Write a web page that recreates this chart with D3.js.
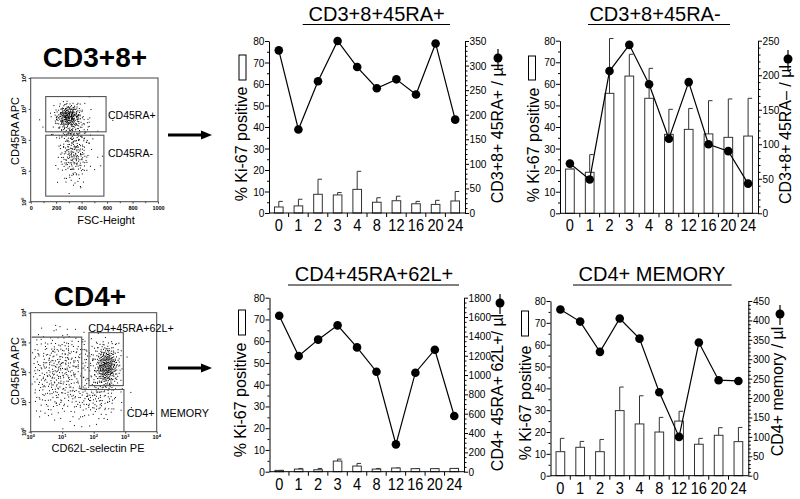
<!DOCTYPE html>
<html><head><meta charset="utf-8">
<script src="https://cdn.jsdelivr.net/npm/d3@7"></script>
<style>
body{margin:0;background:#fff}
svg{display:block}
text{font-family:"Liberation Sans",Arial,Helvetica,sans-serif;fill:#000}
</style>
</head><body>
<svg id="c" width="800" height="499"></svg>
<script>
// ---------------- DATA ----------------
const timepoints = ["0","1","2","3","4","8","12","16","20","24"];
const leftTicks = [0,10,20,30,40,50,60,70,80];

// CD3+8+45RA+
const ki67_A    = [2.8, 3.3, 8.7, 8.4, 11.0, 5.0, 5.7, 4.3, 4.0, 5.6];
const ki67Err_A = [5.4, 6.4, 15.7, 9.5, 19.4, 7.1, 7.8, 5.4, 5.9, 10.0];
const count_A   = [331, 170, 268, 350, 297, 254, 272, 241, 345, 190];
const rightTicks_A = [0,50,100,150,200,250,300,350];

// CD3+8+45RA-
const ki67_B    = [20.5, 19.0, 55.6, 63.6, 53.3, 36.6, 38.9, 36.8, 35.2, 35.8];
const ki67Err_B = [20.5, 27.2, 81.0, 73.7, 67.2, 48.2, 48.6, 52.2, 53.0, 53.3];
const count_B   = [72, 49, 206, 244, 187, 108, 190, 100, 90, 43];
const rightTicks_B = [0,50,100,150,200,250];

// CD4+45RA+62L+
const ki67_C    = [0.6, 1.2, 0.9, 4.9, 2.6, 1.2, 1.7, 1.4, 1.4, 1.5];
const ki67Err_C = [0.6, 1.5, 1.5, 5.8, 3.8, 1.5, 1.7, 1.4, 1.4, 1.5];
const count_C   = [1614, 1197, 1366, 1514, 1286, 1034, 283, 1024, 1262, 576];
const rightTicks_C = [0,200,400,600,800,1000,1200,1400,1600,1800];

// CD4+ MEMORY
const ki67_D    = [11.0, 13.0, 11.0, 29.8, 23.7, 20.0, 25.0, 14.4, 18.5, 15.6];
const ki67Err_D = [17.1, 15.7, 16.6, 40.6, 36.6, 26.7, 29.5, 17.1, 22.0, 22.1];
const count_D   = [428, 397, 319, 405, 353, 215, 100, 343, 246, 244];
const rightTicks_D = [0,50,100,150,200,250,300,350,400,450];

const titles = ["CD3+8+45RA+","CD3+8+45RA-","CD4+45RA+62L+","CD4+ MEMORY"];
const rightLabels = ["CD3+8+ 45RA+ / µl","CD3+8+ 45RA\u2013 / µl","CD4+ 45RA+ 62L+/ µl","CD4+ memory / µl"];
const leftLabel = "% Ki-67 positive";

// flow cytometry tick labels
const fscTicks = [0,200,400,600,800,1000];
const logDecades = [0,1,2,3,4];
// flow density blobs: [centerX, centerY(log10), spreadX, spreadY, dots]
const flow1Blobs = [[292,2.80,46,0.17,200],[305,2.55,68,0.3,130],[335,1.55,58,0.47,200],[360,2.1,95,0.65,60]];
// x,y both log10
const flow2Blobs = [[2.40,2.20,0.19,0.36,360],[0.85,1.95,0.55,0.75,400],[2.05,1.15,0.42,0.38,130],[1.6,2.6,0.6,0.3,60]];

// ---------------- DRAW ----------------
const svg = d3.select("#c");
const FONT = '"Liberation Sans",Arial,Helvetica,sans-serif';

const layout = [
  {L:269,R:465,y0:213,yT:41, tx:376.7,ty:21,ul:[302.7,450,24.5],
   lx:241,ly:144,bx:242.5,by:[55,80], rx:497,ry:133.5,dot:[498,58], minorR:10},
  {L:560,R:758,y0:213.3,yT:40.7, tx:655,ty:21,ul:[588,730,24.5],
   lx:533,ly:145,bx:532,by:[56,80], rx:785,ry:134.5,dot:[788,59], minorR:10},
  {L:269.5,R:464,y0:471.7,yT:297.7, tx:374,ty:281,ul:[288,459,285],
   lx:240,ly:400,bx:242,by:[310,335], rx:497,ry:392.5,dot:[500,303], minorR:50},
  {L:550.5,R:748.3,y0:475.7,yT:301, tx:652,ty:281,ul:[573,731.7,285],
   lx:525,ly:403,bx:525,by:[311,336], rx:777,ry:391.5,dot:[780,314], minorR:10}
];
const sets = [
  [ki67_A,ki67Err_A,count_A,rightTicks_A],
  [ki67_B,ki67Err_B,count_B,rightTicks_B],
  [ki67_C,ki67Err_C,count_C,rightTicks_C],
  [ki67_D,ki67Err_D,count_D,rightTicks_D]
];

sets.forEach((s,i)=>{
  const [ki,err,cnt,rt] = s, p = layout[i];
  const g = svg.append("g");
  const x = d3.scaleBand().domain(timepoints).range([p.L,p.R]).padding(0);
  const yL = d3.scaleLinear().domain([0,80]).range([p.y0,p.yT]);
  const cMax = rt[rt.length-1];
  const yR = d3.scaleLinear().domain([0,cMax]).range([p.y0,p.yT]);
  const bw = x.bandwidth()*0.44;
  const cx = t => x(t)+x.bandwidth()/2;

  // error bars
  g.selectAll(".err").data(timepoints).join("path")
    .attr("d",(t,k)=>`M${cx(t)},${yL(ki[k])}V${yL(err[k])}h4`)
    .attr("fill","none").attr("stroke","#333").attr("stroke-width",1);
  // bars
  g.selectAll(".bar").data(timepoints).join("rect")
    .attr("x",t=>cx(t)-bw/2).attr("width",bw)
    .attr("y",(t,k)=>yL(ki[k])).attr("height",(t,k)=>yL(0)-yL(ki[k]))
    .attr("fill","#fff").attr("stroke","#333").attr("stroke-width",1);

  // line
  const line = d3.line().x(d=>cx(d[0])).y(d=>yR(d[1]));
  const pts = timepoints.map((t,k)=>[t,cnt[k]]);
  g.append("path").attr("d",line(pts)).attr("fill","none").attr("stroke","#000").attr("stroke-width",1.2);
  g.selectAll(".pt").data(pts).join("circle")
    .attr("cx",d=>cx(d[0])).attr("cy",d=>yR(d[1])).attr("r",4.3).attr("fill","#000");

  // left axis
  g.append("g").attr("class","ya").attr("transform",`translate(${p.L},0)`)
    .call(d3.axisLeft(yL).tickValues(leftTicks).tickSize(4).tickSizeOuter(0).tickPadding(1));
  g.append("g").attr("transform",`translate(${p.L},0)`)
    .call(d3.axisLeft(yL).tickValues(d3.range(5,80,10)).tickSize(2).tickSizeOuter(0).tickFormat(""))
    .select(".domain").remove();
  // right axis
  g.append("g").attr("class","ya").attr("transform",`translate(${p.R},0)`)
    .call(d3.axisRight(yR).tickValues(rt).tickSize(4).tickSizeOuter(0).tickPadding(1).tickFormat(d3.format("d")));
  const minors = d3.range(0,cMax+0.01,p.minorR).filter(v=>!rt.includes(v));
  g.append("g").attr("transform",`translate(${p.R},0)`)
    .call(d3.axisRight(yR).tickValues(minors).tickSize(2.5).tickSizeOuter(0).tickFormat(""))
    .select(".domain").remove();
  g.selectAll(".ya text").attr("font-size",11).attr("font-family",FONT)
    .attr("transform","scale(0.92,1)");
  // bottom axis: labels at centers, ticks at boundaries
  const ba = g.append("g").attr("transform",`translate(0,${p.y0})`)
    .call(d3.axisBottom(x).tickSize(0).tickSizeOuter(0).tickPadding(6));
  ba.selectAll("text").attr("font-size",17).attr("font-family",FONT).attr("transform","scale(0.86,1)");
  ba.select(".domain").attr("d",`M${p.L},0H${p.R}`);
  g.selectAll(".xt").data(timepoints.slice(1)).join("line")
    .attr("x1",t=>x(t)).attr("x2",t=>x(t)).attr("y1",p.y0).attr("y2",p.y0+4)
    .attr("stroke","#000");
  g.selectAll(".domain").attr("stroke","#000");
  g.selectAll(".tick line").attr("stroke","#000");

  // title
  g.append("text").attr("x",p.tx).attr("y",p.ty).attr("text-anchor","middle")
    .attr("font-size",20).text(titles[i]);
  g.append("line").attr("x1",p.ul[0]).attr("x2",p.ul[1]).attr("y1",p.ul[2]).attr("y2",p.ul[2])
    .attr("stroke","#000").attr("stroke-width",1.2);

  // left label + bar legend
  g.append("text").attr("transform",`translate(${p.lx},${p.ly}) rotate(-90)`)
    .attr("text-anchor","middle").attr("dy","0.35em").attr("font-size",16).text(leftLabel);
  g.append("rect").attr("x",p.bx-3.5).attr("y",p.by[0]).attr("width",7).attr("height",p.by[1]-p.by[0])
    .attr("fill","#fff").attr("stroke","#000").attr("stroke-width",1);

  // right label + line legend
  g.append("text").attr("transform",`translate(${p.rx},${p.ry}) rotate(-90)`)
    .attr("text-anchor","middle").attr("dy","0.35em").attr("font-size",16).text(rightLabels[i]);
  g.append("line").attr("x1",p.dot[0]).attr("x2",p.dot[0]).attr("y1",p.dot[1]-9).attr("y2",p.dot[1]+11)
    .attr("stroke","#000").attr("stroke-width",1.2);
  g.append("circle").attr("cx",p.dot[0]).attr("cy",p.dot[1]).attr("r",4.5).attr("fill","#000");
});

// ---------------- arrows ----------------
[[168,212,135],[168,212,368]].forEach(a=>{
  svg.append("line").attr("x1",a[0]).attr("x2",a[1]-8).attr("y1",a[2]).attr("y2",a[2])
    .attr("stroke","#000").attr("stroke-width",3);
  svg.append("path").attr("d",`M${a[1]},${a[2]}L${a[1]-11},${a[2]-4.5}L${a[1]-11},${a[2]+4.5}Z`).attr("fill","#000");
});

// ---------------- flow plots ----------------
function halton(i,b){let f=1,r=0;while(i>0){f/=b;r+=f*(i%b);i=Math.floor(i/b);}return r;}
function blobDots(blobs){
  const out=[];let idx=1;
  blobs.forEach(b=>{
    for(let k=0;k<b[4];k++,idx++){
      const u1=Math.max(1e-4,halton(idx,2)), u2=halton(idx,3);
      const r=Math.sqrt(-2*Math.log(u1));
      out.push([b[0]+b[2]*r*Math.cos(2*Math.PI*u2), b[1]+b[3]*r*Math.sin(2*Math.PI*u2)]);
    }
  });
  return out;
}

// Plot 1: CD3+8+
{
  const g = svg.append("g");
  const fx = d3.scaleLinear().domain([0,1000]).range([30.7,158]);
  const fy = d3.scaleLinear().domain([0,4]).range([201.7,78]);
  const dots = blobDots(flow1Blobs).filter(d=>d[0]>0&&d[0]<1000&&d[1]>0&&d[1]<4);
  g.selectAll(".d").data(dots).join("rect").attr("x",d=>fx(d[0])).attr("y",d=>fy(d[1]))
    .attr("width",1).attr("height",1).attr("fill","#000");
  g.append("rect").attr("x",30.7).attr("y",78).attr("width",127.3).attr("height",123.7)
    .attr("fill","none").attr("stroke","#444");
  g.append("g").attr("transform","translate(0,201.7)")
    .call(d3.axisBottom(fx).tickValues(fscTicks).tickSize(2).tickSizeOuter(0).tickPadding(2).tickFormat(d3.format("d")))
    .call(a=>{a.select(".domain").remove();a.selectAll("text").attr("font-size",5.5).attr("font-weight","bold").attr("font-family",FONT);});
  g.append("g").attr("transform","translate(0,201.7)")
    .call(d3.axisBottom(fx).tickValues(d3.range(100,1000,200)).tickSize(1.5).tickFormat(""))
    .select(".domain").remove();
  g.append("g").attr("transform","translate(30.7,0)")
    .call(d3.axisLeft(fy).tickValues(logDecades).tickSize(2).tickFormat(""))
    .select(".domain").remove();
  logDecades.forEach(v=>{
    const t=g.append("text").attr("transform",`translate(26,${fy(v)}) rotate(-90)`).attr("text-anchor","middle")
      .attr("font-size",5.5).attr("font-weight","bold");
    t.append("tspan").text("10");t.append("tspan").attr("dy",-2).attr("font-size",4).text(v);
  });
  g.selectAll(".tick line").attr("stroke","#444");
  g.append("rect").attr("x",fx(118)).attr("y",fy(3.4)).attr("width",fx(592)-fx(118)).attr("height",fy(2.26)-fy(3.4))
    .attr("fill","none").attr("stroke","#555").attr("stroke-width",1.1);
  g.append("rect").attr("x",fx(118)).attr("y",fy(2.15)).attr("width",fx(575)-fx(118)).attr("height",fy(0.18)-fy(2.15))
    .attr("fill","none").attr("stroke","#555").attr("stroke-width",1.1);
  g.append("text").attr("x",108).attr("y",119).attr("font-size",10.5).text("CD45RA+");
  g.append("text").attr("x",108).attr("y",157).attr("font-size",10.5).text("CD45RA-");
  g.append("text").attr("transform","translate(15.5,131) rotate(-90)").attr("text-anchor","middle")
    .attr("dy","0.35em").attr("font-size",11).text("CD45RA APC");
  g.append("text").attr("x",106).attr("y",224).attr("text-anchor","middle").attr("font-size",11).text("FSC-Height");
  g.append("text").attr("x",95).attr("y",67).attr("text-anchor","middle").attr("font-size",28)
    .attr("font-weight","bold").text("CD3+8+");
}

// Plot 2: CD4+
{
  const g = svg.append("g");
  const fx = d3.scaleLinear().domain([0,4]).range([30.7,156.7]);
  const fy = d3.scaleLinear().domain([0,4]).range([431.7,312.7]);
  const dots = blobDots(flow2Blobs).filter(d=>d[0]>0.02&&d[0]<3.6&&d[1]>0.05&&d[1]<3.6);
  g.selectAll(".d").data(dots).join("rect").attr("x",d=>fx(d[0])).attr("y",d=>fy(d[1]))
    .attr("width",1).attr("height",1).attr("fill","#000");
  g.append("rect").attr("x",30.7).attr("y",312.7).attr("width",126).attr("height",119)
    .attr("fill","none").attr("stroke","#444");
  g.append("g").attr("transform","translate(0,431.7)")
    .call(d3.axisBottom(fx).tickValues(logDecades).tickSize(2).tickFormat(""))
    .select(".domain").remove();
  g.append("g").attr("transform","translate(30.7,0)")
    .call(d3.axisLeft(fy).tickValues(logDecades).tickSize(2).tickFormat(""))
    .select(".domain").remove();
  logDecades.forEach(v=>{
    const t=g.append("text").attr("x",fx(v)).attr("y",439).attr("text-anchor","middle")
      .attr("font-size",5.5).attr("font-weight","bold");
    t.append("tspan").text("10");t.append("tspan").attr("dy",-2).attr("font-size",4).text(v);
    const t2=g.append("text").attr("transform",`translate(26,${fy(v)}) rotate(-90)`).attr("text-anchor","middle")
      .attr("font-size",5.5).attr("font-weight","bold");
    t2.append("tspan").text("10");t2.append("tspan").attr("dy",-2).attr("font-size",4).text(v);
  });
  g.selectAll(".tick line").attr("stroke","#444");
  const step = [[0.03,3.18],[1.62,3.18],[1.62,1.42],[2.96,1.42],[2.96,0]];
  g.append("path").attr("d",d3.line().x(d=>fx(d[0])).y(d=>fy(d[1]))(step))
    .attr("fill","none").attr("stroke","#555").attr("stroke-width",1.1);
  g.append("rect").attr("x",fx(1.85)).attr("y",fy(3.33)).attr("width",fx(2.94)-fx(1.85)).attr("height",fy(1.55)-fy(3.33))
    .attr("fill","none").attr("stroke","#555").attr("stroke-width",1.1);
  g.append("text").attr("x",88.3).attr("y",331.5).attr("font-size",10.8).text("CD4+45RA+62L+");
  g.append("text").attr("x",126.7).attr("y",417).attr("font-size",10.8).attr("xml:space","preserve").text("CD4+  MEMORY");
  g.append("text").attr("transform","translate(15,371) rotate(-90)").attr("text-anchor","middle")
    .attr("dy","0.35em").attr("font-size",11).text("CD45RA APC");
  g.append("text").attr("x",98).attr("y",452).attr("text-anchor","middle").attr("font-size",11).text("CD62L-selectin PE");
  g.append("text").attr("x",90).attr("y",306).attr("text-anchor","middle").attr("font-size",28)
    .attr("font-weight","bold").text("CD4+");
}
</script></body></html>
